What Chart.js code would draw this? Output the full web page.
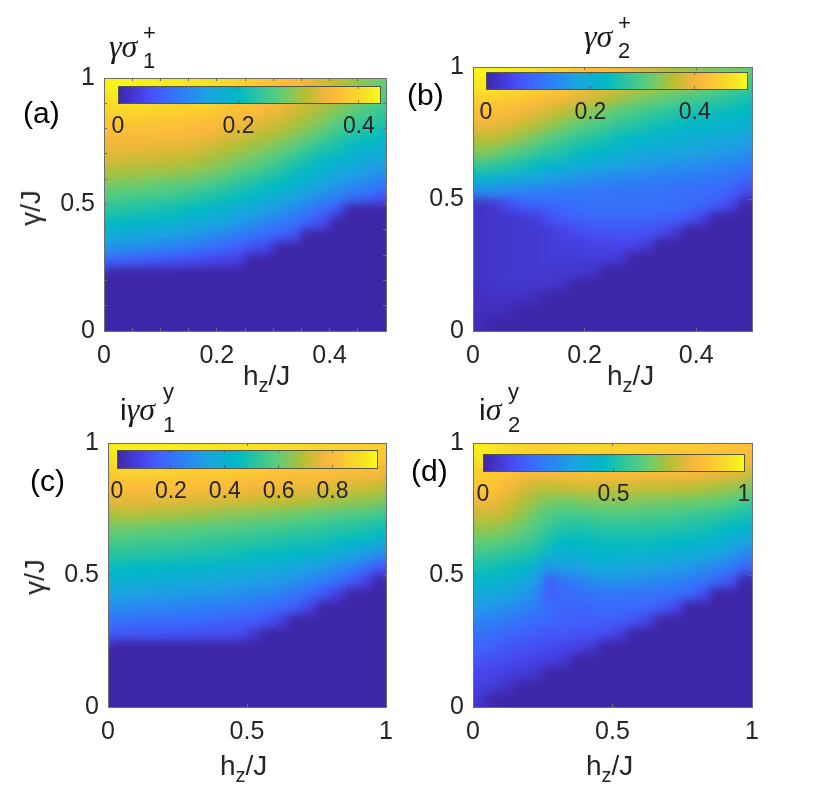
<!DOCTYPE html>
<html>
<head>
<meta charset="utf-8">
<script src="https://cdn.jsdelivr.net/npm/chart.js@4"></script>
<style>
  html, body { margin: 0; padding: 0; background: #fff; }
  #page { position: relative; width: 830px; height: 795px; overflow: hidden; font-family: "Liberation Sans", sans-serif; color: #262626; }
  canvas { position: absolute; }
  .lbl { position: absolute; white-space: nowrap; line-height: 1; }
  .panel { font-size: 30px; color: #000; }
  .axis { font-size: 28px; }
  .axis sub { font-size: 20px; line-height: 0; vertical-align: -7px; }
  .ttl { font-size: 32px; font-family: "Liberation Serif", serif; font-style: italic; color: #1a1a1a; }
  .ttl i.up { font-style: normal; font-family: "Liberation Sans", sans-serif; font-size: 30px; }
  .scr { position: absolute; font-style: normal; font-size: 22px; font-family: "Liberation Sans", sans-serif; line-height: 1; }
</style>
</head>
<body>
<div id="page">
  <div class="lbl panel" style="left:23px;top:98px">(a)</div>
  <div class="lbl panel" style="left:407px;top:80px">(b)</div>
  <div class="lbl panel" style="left:30px;top:466px">(c)</div>
  <div class="lbl panel" style="left:411px;top:456px">(d)</div>

  <div class="lbl ttl" style="left:109px;top:30px">γσ<span class="scr" style="left:34px;top:-8px">+</span><span class="scr" style="left:34px;top:20px">1</span></div>
  <div class="lbl ttl" style="left:584px;top:20px">γσ<span class="scr" style="left:34px;top:-8px">+</span><span class="scr" style="left:34px;top:20px">2</span></div>
  <div class="lbl ttl" style="left:120px;top:393px"><i class="up">i</i>γσ<span class="scr" style="left:43px;top:-12px">y</span><span class="scr" style="left:43px;top:21px">1</span></div>
  <div class="lbl ttl" style="left:479px;top:393px"><i class="up">i</i>σ<span class="scr" style="left:29px;top:-12px">y</span><span class="scr" style="left:29px;top:21px">2</span></div>

  <div class="lbl axis" style="left:243px;top:362px">h<sub>z</sub>/J</div>
  <div class="lbl axis" style="left:607px;top:362px">h<sub>z</sub>/J</div>
  <div class="lbl axis" style="left:220px;top:752px">h<sub>z</sub>/J</div>
  <div class="lbl axis" style="left:586px;top:752px">h<sub>z</sub>/J</div>
  <div class="lbl axis" style="left:31px;top:208px;transform:translate(-50%,-50%) rotate(-90deg)">γ/J</div>
  <div class="lbl axis" style="left:35px;top:577px;transform:translate(-50%,-50%) rotate(-90deg)">γ/J</div>
</div>

<script>
// colour scale stops: position, r, g, b
const parulaPos = [0, 0.1, 0.15, 0.25, 0.35, 0.46, 0.52, 0.62, 0.72, 0.8, 0.85, 0.95, 1];
const parulaRgb = [[62,38,168],[71,69,237],[66,92,252],[44,128,246],[27,165,224],[0,185,197],[35,195,165],[95,205,120],[185,190,50],[245,182,62],[254,192,55],[245,228,35],[249,251,20]];

// levels, % of the colour bar. rows run from gamma=1 down to gamma=0, columns from left to right
const levelsA = [
  [99,99,98,98,97,97,96,95,93,91,89,87,85,82,79,76,73,70,66,63],
  [96,96,96,95,95,94,94,93,91,89,87,85,83,80,77,74,71,68,64,61],
  [92,92,92,91,91,90,90,89,87,85,84,81,79,76,73,70,67,64,60,57],
  [87,87,87,87,86,86,85,84,83,81,79,77,75,72,69,66,62,58,55,53],
  [83,83,83,83,82,82,81,80,78,76,74,72,70,67,64,60,56,53,50,48],
  [79,79,79,79,78,78,77,75,73,71,69,67,64,61,57,53,50,47,44,42],
  [76,75,75,74,74,73,72,70,68,66,64,61,58,54,50,47,44,41,39,36],
  [71,70,70,69,69,68,67,65,63,60,58,55,52,48,45,42,38,36,33,31],
  [65,64,64,63,62,61,60,58,56,53,51,48,46,43,39,35,32,29,27,24],
  [59,58,57,57,56,55,53,51,49,47,45,42,39,36,32,28,25,21,18,14],
  [53,52,51,50,49,48,46,44,41,39,37,34,31,27,23,19,14,0,0,0],
  [47,46,45,44,43,41,39,37,35,32,30,27,24,21,17,12,0,0,0,0],
  [39,38,37,36,34,33,31,29,27,24,22,19,16,13,0,0,0,0,0,0],
  [30,29,28,27,25,24,22,20,18,15,12,10,0,0,0,0,0,0,0,0],
  [17,16,15,14,13,12,11,10,9,8,0,0,0,0,0,0,0,0,0,0],
  [0,0,0,0,0,0,0,0,0,0,0,0,0,0,0,0,0,0,0,0],
  [0,0,0,0,0,0,0,0,0,0,0,0,0,0,0,0,0,0,0,0],
  [0,0,0,0,0,0,0,0,0,0,0,0,0,0,0,0,0,0,0,0],
  [0,0,0,0,0,0,0,0,0,0,0,0,0,0,0,0,0,0,0,0],
  [0,0,0,0,0,0,0,0,0,0,0,0,0,0,0,0,0,0,0,0]
];
const levelsB = [
  [99,99,98,97,95,93,91,88,86,84,82,79,76,73,71,69,67,66,65,64],
  [96,96,95,93,91,89,87,84,82,79,77,74,72,70,68,66,64,62,60,58],
  [90,89,88,86,84,82,80,77,75,72,69,66,64,62,60,58,56,54,52,50],
  [84,83,82,80,78,75,72,69,66,63,60,58,56,54,52,50,49,48,47,46],
  [79,78,77,74,71,68,65,62,59,57,54,52,50,48,47,45,44,43,42,41],
  [73,72,70,67,64,60,57,54,52,50,47,45,44,42,41,40,39,38,37,35],
  [67,65,62,59,56,53,51,48,46,44,42,40,38,37,36,35,34,33,31,30],
  [56,54,52,50,47,44,42,40,38,36,35,33,32,31,30,29,28,27,26,24],
  [43,41,39,37,35,34,32,30,29,28,27,26,25,25,24,24,23,22,21,18],
  [28,28,27,26,25,24,23,23,22,22,22,21,21,21,20,20,19,18,16,11],
  [4,6,11,15,17,18,19,20,21,21,21,21,20,20,20,19,18,15,10,0],
  [4,5,5,6,8,12,15,17,18,18,18,18,18,17,16,14,8,0,0,0],
  [4,5,5,6,6,7,9,11,13,14,14,14,13,11,7,0,0,0,0,0],
  [4,5,5,6,6,7,8,8,9,9,10,10,7,0,0,0,0,0,0,0],
  [4,5,5,6,6,7,7,7,7,8,6,0,0,0,0,0,0,0,0,0],
  [4,5,5,6,6,6,6,6,5,0,0,0,0,0,0,0,0,0,0,0],
  [4,5,5,5,5,5,4,0,0,0,0,0,0,0,0,0,0,0,0,0],
  [3,4,4,4,3,0,0,0,0,0,0,0,0,0,0,0,0,0,0,0],
  [3,3,2,0,0,0,0,0,0,0,0,0,0,0,0,0,0,0,0,0],
  [2,0,0,0,0,0,0,0,0,0,0,0,0,0,0,0,0,0,0,0]
];
const levelsC = [
  [98,98,98,98,98,97,97,97,96,96,95,95,94,93,92,92,91,90,90,89],
  [94,94,94,94,94,93,93,93,92,92,91,91,90,89,89,88,88,87,87,86],
  [88,88,88,88,88,88,87,87,87,86,86,85,85,84,84,83,83,82,81,80],
  [83,83,83,83,83,82,82,82,81,81,80,80,79,78,78,77,76,75,74,73],
  [78,78,78,77,77,77,76,76,75,75,74,73,73,72,71,70,69,68,67,66],
  [71,71,71,70,70,69,69,68,67,66,66,65,64,63,62,61,60,59,58,57],
  [64,64,63,63,62,62,61,60,60,59,58,57,57,56,55,54,53,52,51,49],
  [58,58,57,57,56,56,55,55,54,54,53,52,51,50,50,49,47,46,44,41],
  [53,53,52,52,51,51,50,50,49,48,47,47,46,45,43,41,39,36,33,29],
  [47,46,46,45,45,44,44,43,42,41,40,39,38,36,34,32,29,25,21,14],
  [41,41,40,40,39,39,38,37,36,35,34,33,32,30,27,24,20,15,10,0],
  [35,34,34,33,33,32,32,31,30,29,28,27,25,22,18,14,8,0,0,0],
  [28,28,27,27,26,26,25,24,24,23,21,20,18,15,9,0,0,0,0,0],
  [21,21,20,20,20,19,19,18,17,16,15,13,8,0,0,0,0,0,0,0],
  [14,14,14,14,13,13,13,12,12,11,6,0,0,0,0,0,0,0,0,0],
  [0,0,0,0,0,0,0,0,0,0,0,0,0,0,0,0,0,0,0,0],
  [0,0,0,0,0,0,0,0,0,0,0,0,0,0,0,0,0,0,0,0],
  [0,0,0,0,0,0,0,0,0,0,0,0,0,0,0,0,0,0,0,0],
  [0,0,0,0,0,0,0,0,0,0,0,0,0,0,0,0,0,0,0,0],
  [0,0,0,0,0,0,0,0,0,0,0,0,0,0,0,0,0,0,0,0]
];
const levelsD = [
  [99,96,93,91,90,90,91,92,92,91,90,90,89,89,88,88,87,87,86,85],
  [95,92,90,88,87,87,88,89,89,88,88,88,87,87,86,86,85,84,83,82],
  [88,87,86,83,80,80,82,83,83,82,82,82,81,81,80,80,79,78,77,76],
  [86,86,80,76,73,72,73,74,75,74,74,74,73,73,72,72,71,70,68,66],
  [80,79,76,72,68,65,64,65,66,66,66,66,65,65,64,64,63,62,60,58],
  [75,74,72,68,63,59,57,57,58,59,59,59,58,58,57,56,55,54,52,50],
  [69,68,66,63,59,55,52,51,52,53,53,53,53,52,52,51,50,48,46,44],
  [63,62,60,58,55,50,46,46,47,48,48,48,48,47,46,45,44,42,40,36],
  [56,55,53,52,49,42,41,41,44,45,43,42,42,41,40,39,37,35,32,27],
  [50,49,47,45,41,30,33,34,37,38,37,36,35,34,33,31,29,26,23,17],
  [44,43,41,39,33,16,22,25,28,30,30,29,28,27,26,24,21,18,13,0],
  [38,37,35,32,28,15,19,20,21,23,22,22,21,21,20,18,12,0,0,0],
  [32,31,29,27,24,20,18,17,18,19,19,19,18,15,10,0,0,0,0,0],
  [26,25,23,21,19,18,16,16,16,16,15,13,9,0,0,0,0,0,0,0],
  [21,20,18,17,15,14,14,13,13,11,8,0,0,0,0,0,0,0,0,0],
  [17,16,14,13,12,11,10,9,6,0,0,0,0,0,0,0,0,0,0,0],
  [13,12,11,10,9,8,6,0,0,0,0,0,0,0,0,0,0,0,0,0],
  [10,9,8,7,5,0,0,0,0,0,0,0,0,0,0,0,0,0,0,0],
  [8,7,4,0,0,0,0,0,0,0,0,0,0,0,0,0,0,0,0,0],
  [5,0,0,0,0,0,0,0,0,0,0,0,0,0,0,0,0,0,0,0]
];

// axis ranges and ticks
const hzMaxTop = 0.5, hzMaxBottom = 1;
const hzTicksTop = [0, 0.2, 0.4];
const hzTicksBottom = [0, 0.5, 1];
const gammaTicks = [0, 0.5, 1];
const hzMinorA = [0.05, 0.1, 0.15, 0.25, 0.3, 0.35, 0.45];
const gammaMinorA = [0.1, 0.2, 0.3, 0.4, 0.6, 0.7, 0.8, 0.9];

// colour bars: top of the range and labelled ticks
const barMaxA = 0.435, barTicksA = [0, 0.2, 0.4];
const barMaxB = 0.5, barTicksB = [0, 0.2, 0.4];
const barMaxC = 0.965, barTicksC = [0, 0.2, 0.4, 0.6, 0.8];
const barMaxD = 1, barTicksD = [0, 0.5, 1];

const AXIS_COLOR = '#6e6e6e';
const TEXT_COLOR = '#262626';
const page = document.getElementById('page');

function levelColor(level) {
  const t = Math.min(1, Math.max(0, level / 100));
  let i = 0;
  while (i < parulaPos.length - 2 && t > parulaPos[i + 1]) i++;
  const f = (t - parulaPos[i]) / (parulaPos[i + 1] - parulaPos[i]);
  const a = parulaRgb[i], b = parulaRgb[i + 1];
  return 'rgb(' + Math.round(a[0] + (b[0] - a[0]) * f) + ',' + Math.round(a[1] + (b[1] - a[1]) * f) + ',' + Math.round(a[2] + (b[2] - a[2]) * f) + ')';
}

function addCanvas(left, top, width, height) {
  const c = document.createElement('canvas');
  c.width = width; c.height = height;
  c.style.left = left + 'px'; c.style.top = top + 'px';
  c.style.width = width + 'px'; c.style.height = height + 'px';
  page.appendChild(c);
  return c;
}

// soften the cell edges once the cells are on the canvas, the axes go on afterwards
const smoothCells = {
  id: 'smoothCells',
  afterDatasetsDraw: function (chart) {
    const a = chart.chartArea, ctx = chart.ctx, p = 18;
    const w = Math.round(a.right - a.left), h = Math.round(a.bottom - a.top);
    const tmp = document.createElement('canvas');
    tmp.width = w + 2 * p; tmp.height = h + 2 * p;
    const t = tmp.getContext('2d');
    t.drawImage(chart.canvas, a.left, a.top, w, h, 0, 0, tmp.width, tmp.height);
    t.drawImage(chart.canvas, a.left, a.top, w, h, p, p, w, h);
    ctx.save();
    ctx.beginPath();
    ctx.rect(a.left, a.top, w, h);
    ctx.clip();
    ctx.filter = 'blur(5px)';
    ctx.drawImage(tmp, a.left - p, a.top - p);
    ctx.restore();
  }
};

// one scale with inward ticks, size forced so the plot area lands where we want it
function makeScale(position, min, max, size, major, minor, fontSize, padding, color, tickColor) {
  const all = major.concat(minor);
  const horizontal = position === 'top' || position === 'bottom';
  return {
    type: 'linear', position: position, min: min, max: max,
    afterBuildTicks: function (s) { s.ticks = all.map(function (v) { return { value: v }; }); },
    afterFit: function (s) { if (horizontal) s.height = size; else s.width = size; },
    border: { display: true, color: color, width: 1, z: 1 },
    grid: { drawOnChartArea: false, drawTicks: true, tickLength: -3, tickColor: tickColor || color, tickWidth: 1, z: 1 },
    ticks: {
      display: fontSize > 0, autoSkip: false, maxRotation: 0, minRotation: 0, padding: padding, color: TEXT_COLOR,
      font: { family: '"Liberation Sans", sans-serif', size: fontSize || 12 },
      callback: function (v) { return major.indexOf(v) >= 0 ? String(v) : ''; }
    }
  };
}

function drawPanel(levels, box, hzMax, hzMajor, hzMinor, gammaMinor) {
  const ml = 70, mr = 30, mt = 20, mb = 60;
  const w = box.r - box.l, h = box.b - box.t;
  const rows = levels.length, cols = levels[0].length;
  const cells = [], colors = [];
  levels.forEach(function (row, j) {
    row.forEach(function (lev, i) {
      cells.push({ x: hzMax * (i + 0.5) / cols, y: 1 - (j + 0.5) / rows });
      colors.push(levelColor(lev));
    });
  });
  const radius = Math.max(w / cols, h / rows) / 2 * Math.SQRT2 + 0.6;
  new Chart(addCanvas(box.l - ml, box.t - mt, w + ml + mr, h + mt + mb), {
    type: 'scatter',
    data: {
      datasets: [{
        data: cells, clip: 0,
        pointStyle: 'rect', pointRadius: radius, pointBorderWidth: 0,
        pointBackgroundColor: colors, pointBorderColor: colors
      }]
    },
    plugins: [smoothCells],
    options: {
      responsive: false, animation: false, events: [],
      layout: { padding: 0 },
      plugins: { legend: { display: false }, tooltip: { enabled: false } },
      scales: {
        x: makeScale('bottom', 0, hzMax, mb, hzMajor, hzMinor, 25, 13, AXIS_COLOR),
        y: makeScale('left', 0, 1, ml, gammaTicks, gammaMinor, 25, 12, AXIS_COLOR),
        x2: makeScale('top', 0, hzMax, mt, hzMajor, hzMinor, 0, 0, AXIS_COLOR),
        y2: makeScale('right', 0, 1, mr, gammaTicks, gammaMinor, 0, 0, AXIS_COLOR)
      }
    }
  });
}

function drawBar(box, maxValue, ticks) {
  const ml = 25, mr = 30, mt = 10, mb = 45;
  const w = box.r - box.l, h = box.b - box.t;
  const edge = '#55554a';
  const faint = 'rgba(60,60,50,0.55)';
  const y = makeScale('left', 0, 1, ml, [], [], 0, 0, edge);
  y.type = 'category'; delete y.min; delete y.max;
  new Chart(addCanvas(box.l - ml, box.t - mt, w + ml + mr, h + mt + mb), {
    type: 'bar',
    data: {
      labels: [''],
      datasets: [{
        data: [maxValue], barPercentage: 1, categoryPercentage: 1, borderWidth: 0,
        backgroundColor: function (ctx) {
          const area = ctx.chart.chartArea;
          if (!area) return '#3e26a8';
          const g = ctx.chart.ctx.createLinearGradient(area.left, 0, area.right, 0);
          parulaPos.forEach(function (p) { g.addColorStop(p, levelColor(p * 100)); });
          return g;
        }
      }]
    },
    options: {
      indexAxis: 'y', responsive: false, animation: false, events: [],
      layout: { padding: 0 },
      plugins: { legend: { display: false }, tooltip: { enabled: false } },
      scales: {
        x: makeScale('bottom', 0, maxValue, mb, ticks, [], 23, 13, edge, faint),
        y: y,
        x2: makeScale('top', 0, maxValue, mt, ticks, [], 0, 0, edge, faint),
        y2: makeScale('right', 0, 1, mr, [], [], 0, 0, edge)
      }
    }
  });
}

drawPanel(levelsA, { l: 104, r: 386, t: 71, b: 331 }, hzMaxTop, hzTicksTop, hzMinorA, gammaMinorA);
drawPanel(levelsB, { l: 473, r: 752, t: 60, b: 331 }, hzMaxTop, hzTicksTop, [], []);
drawPanel(levelsC, { l: 108, r: 386, t: 436, b: 707 }, hzMaxBottom, hzTicksBottom, [], []);
drawPanel(levelsD, { l: 473, r: 752, t: 436, b: 707 }, hzMaxBottom, hzTicksBottom, [], []);

drawBar({ l: 118, r: 380, t: 86, b: 103 }, barMaxA, barTicksA);
drawBar({ l: 486, r: 747, t: 72, b: 89 }, barMaxB, barTicksB);
drawBar({ l: 117, r: 377, t: 450, b: 468 }, barMaxC, barTicksC);
drawBar({ l: 483, r: 744, t: 454, b: 471 }, barMaxD, barTicksD);

// labels sit on top of the canvases
page.querySelectorAll('.lbl').forEach(function (el) { el.style.zIndex = 5; });
</script>
</body>
</html>
